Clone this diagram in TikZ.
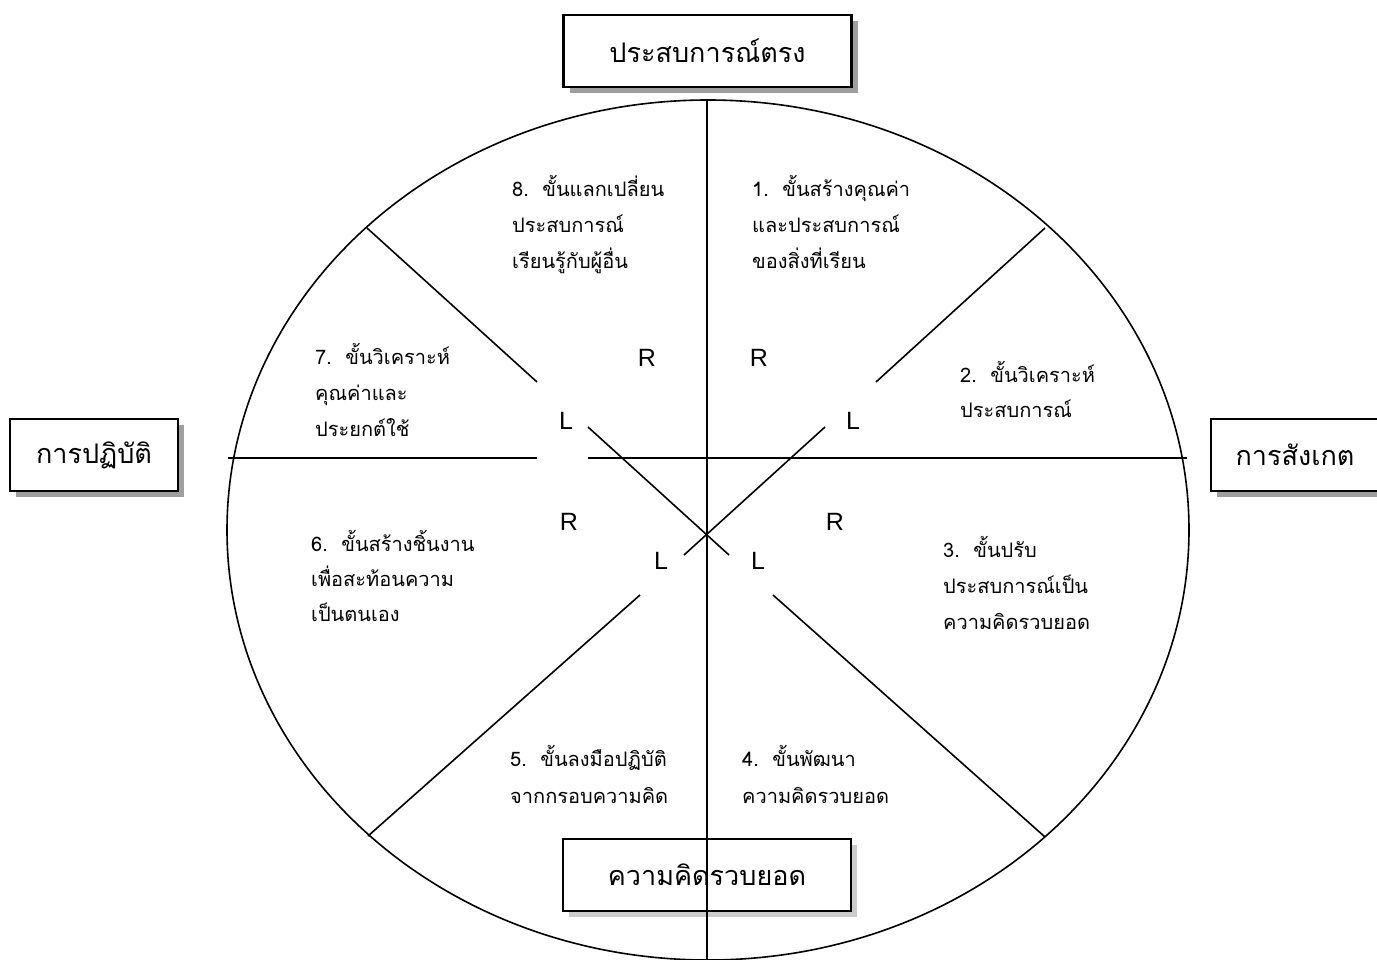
\documentclass[tikz,border=0pt]{standalone}
\usepackage{fontspec}
\newfontfamily\thai[Script=Thai]{Loma}
\newfontfamily\arialf{Liberation Sans}
\usetikzlibrary{shadows,shapes.geometric}
\tikzset{
  divider/.style={line width=1.6pt, black},
  stage/.style={font=\thai\fontsize{20}{24}\selectfont, anchor=base west, inner sep=0pt},
  rl/.style={font=\arialf\fontsize{25}{28}\selectfont, inner sep=0pt},
  headbox/.style={draw, line width=2.4pt, fill=white, minimum width=288pt, minimum height=72pt,
     font=\thai\fontsize{27}{30}\selectfont, inner sep=0pt,
     drop shadow={shadow xshift=6pt, shadow yshift=-6pt, fill=gray!75, opacity=1}},
  sidebox/.style={headbox, minimum width=168pt},
  lowbox/.style={headbox, drop shadow={shadow xshift=6pt, shadow yshift=-6pt, fill=gray!40, opacity=1}}
}
\begin{document}
\begin{tikzpicture}[x=1pt,y=-1pt]
\useasboundingbox (0,0) rectangle (1377,960);
\clip (0,0) rectangle (1377,960);
\fill[white] (0,0) rectangle (1377,960);
% ellipse
\node[draw, line width=1.6pt, ellipse, minimum width=962pt, minimum height=860pt, inner sep=0pt] (E) at (708,530) {};
% coordinates
\coordinate (a1) at (367,228); \coordinate (a2) at (537,382); \coordinate (a3) at (588,427);
\coordinate (a4) at (729,555); \coordinate (a5) at (773,595); \coordinate (a6) at (1045,837);
\coordinate (b1) at (1045,228); \coordinate (b2) at (876,382); \coordinate (b3) at (825,427);
\coordinate (b4) at (684,555); \coordinate (b5) at (640,595); \coordinate (b6) at (368,836);
\coordinate (h1) at (228,458); \coordinate (h2) at (537,458); \coordinate (h3) at (588,458); \coordinate (h4) at (1187,458);
\coordinate (v1) at (707,101); \coordinate (v2) at (707,965);
% dividers
\draw[divider] (a1) -- (a2); \draw[divider] (a3) -- (a4); \draw[divider] (a5) -- (a6);
\draw[divider] (b1) -- (b2); \draw[divider] (b3) -- (b4); \draw[divider] (b5) -- (b6);
\draw[divider] (h1) -- (h2); \draw[divider] (h3) -- (h4);
% boxes
\node[headbox] (top) at (707.5,51) {ประสบการณ์ตรง};
\node[sidebox] (left) at (94,455) {การปฏิบัติ};
\node[sidebox] (right) at (1295,455) {การสังเกต};
\node[lowbox] (bottom) at (707,875) {ความคิดรวบยอด};
\draw[divider] (v1) -- (v2);
% R / L
\node[rl] (r1) at (647,358) {R};
\node[rl] (r2) at (759,358) {R};
\node[rl] (r3) at (569,522) {R};
\node[rl] (r4) at (835,522) {R};
\node[rl] (l1) at (566,421) {L};
\node[rl] (l2) at (853,421) {L};
\node[rl] (l3) at (661,561) {L};
\node[rl] (l4) at (758,561) {L};
% stages
\node[stage] (s8a) at (512,197) {8.\ \ ขั้นแลกเปลี่ยน};
\node[stage] (s8b) at (512,233) {ประสบการณ์};
\node[stage] (s8c) at (512,269) {เรียนรู้กับผู้อื่น};
\node[stage] (s1a) at (752,197) {1.\ \ ขั้นสร้างคุณค่า};
\node[stage] (s1b) at (752,233) {และประสบการณ์};
\node[stage] (s1c) at (752,269) {ของสิ่งที่เรียน};
\node[stage] (s7a) at (315,364) {7.\ \ ขั้นวิเคราะห์};
\node[stage] (s7b) at (315,400) {คุณค่าและ};
\node[stage] (s7c) at (315,436) {ประยกต์ใช้};
\node[stage] (s2a) at (960,382) {2.\ \ ขั้นวิเคราะห์};
\node[stage] (s2b) at (960,417) {ประสบการณ์};
\node[stage] (s6a) at (311,551) {6.\ \ ขั้นสร้างชิ้นงาน};
\node[stage] (s6b) at (311,586) {เพื่อสะท้อนความ};
\node[stage] (s6c) at (311,621) {เป็นตนเอง};
\node[stage] (s3a) at (943,557) {3.\ \ ขั้นปรับ};
\node[stage] (s3b) at (943,593) {ประสบการณ์เป็น};
\node[stage] (s3c) at (943,629) {ความคิดรวบยอด};
\node[stage] (s5a) at (510,766) {5.\ \ ขั้นลงมือปฏิบัติ};
\node[stage] (s5b) at (510,803) {จากกรอบความคิด};
\node[stage] (s4a) at (742,766) {4.\ \ ขั้นพัฒนา};
\node[stage] (s4b) at (742,803) {ความคิดรวบยอด};
\end{tikzpicture}
\end{document}
